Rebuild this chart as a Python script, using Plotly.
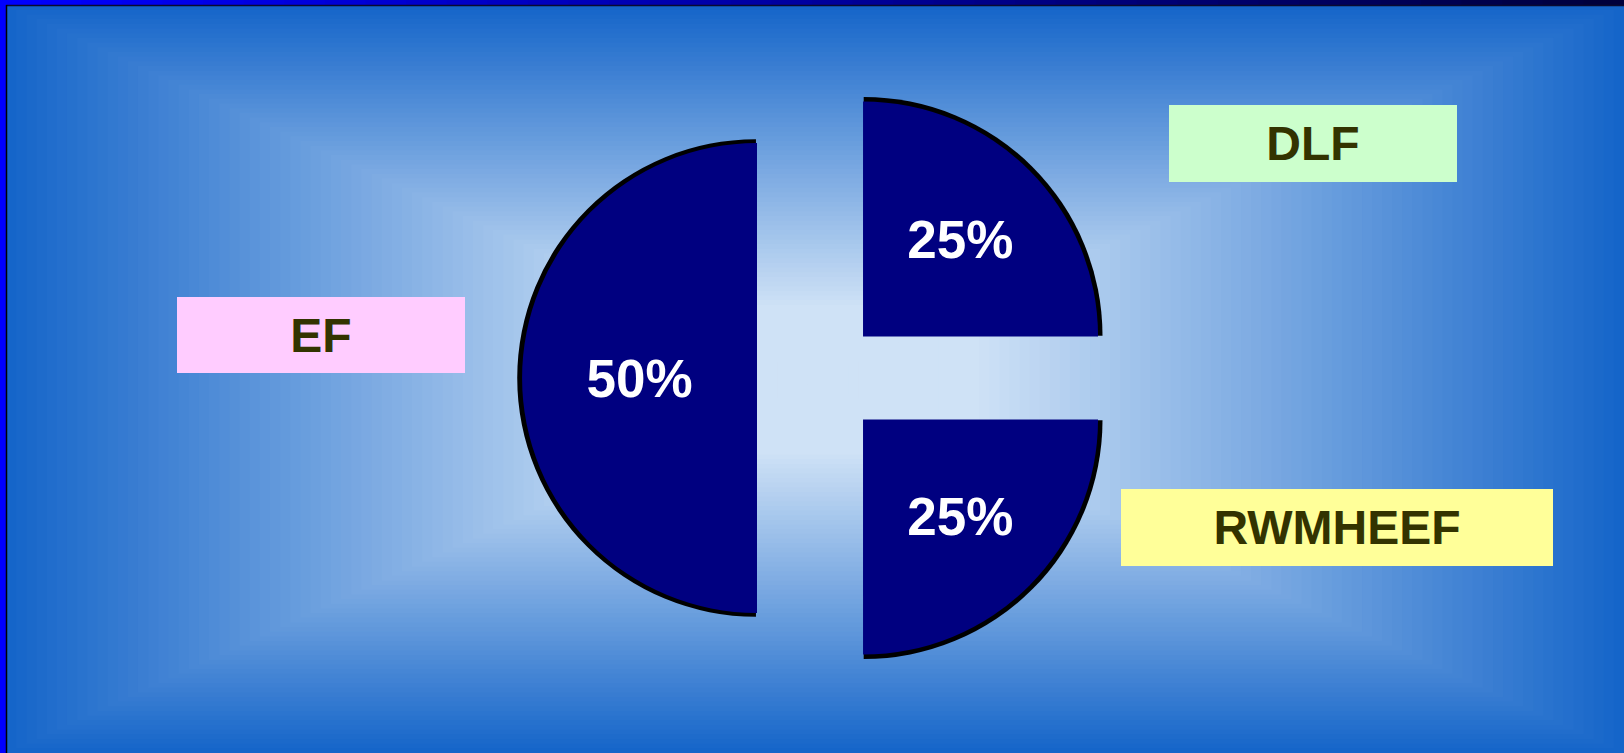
import plotly.graph_objects as go

# ---- data ----
labels = ["EF", "DLF", "RWMHEEF"]
values = [50, 25, 25]
pulls = [0.2745, 0.25, 0.25]
box_colors = ["#FFCCFF", "#CCFFCC", "#FFFF99"]

# ---- geometry / style ----
W, H = 1624, 753
R = 235              # pie radius in px
CX, CY = 821.5, 378  # unpulled pie centre (px from top-left)
max_pull = max(pulls)


def pie_domain(r):
    half = r * (1 + max_pull)
    return dict(x=[(CX - half - 20) / W, (CX + half + 20) / W],
                y=[(H - CY - half) / H, (H - CY + half) / H])


def hexc(c):
    return "#%02x%02x%02x" % tuple(int(round(v)) for v in c)


def lerp(c1, c2, s):
    return tuple(a + (b - a) * s for a, b in zip(c1, c2))


shapes = []
# rectangular "from centre" gradient background
EDGE = (0x15, 0x65, 0xC9)
CENTRE = (0xCF, 0xE2, 0xF6)
GX, GY = 818, 380
L, Rt, T, B = 6, W, 5, H
N = 80
for i in range(N, 0, -1):
    t = i / N
    s = max(0.0, (t - 0.2) / 0.8)
    col = hexc(lerp(CENTRE, EDGE, s))
    x0 = GX - t * (GX - L)
    x1 = GX + t * (Rt - GX)
    y0 = GY - t * (GY - T)
    y1 = GY + t * (B - GY)
    shapes.append(dict(type="rect", xref="paper", yref="paper",
                       x0=x0 / W, x1=x1 / W, y0=1 - y1 / H, y1=1 - y0 / H,
                       fillcolor=col, line=dict(width=0), layer="below"))

# top frame strip (blue -> navy)
NS = 40
for i in range(NS):
    s = i / (NS - 1)
    col = hexc(lerp((0, 0, 255), (0, 0, 60), s))
    shapes.append(dict(type="rect", xref="paper", yref="paper",
                       x0=i * W / NS / W, x1=((i + 1) * W / NS + 1) / W,
                       y0=1 - 5 / H, y1=1.0,
                       fillcolor=col, line=dict(width=0), layer="below"))
# left frame strip
shapes.append(dict(type="rect", xref="paper", yref="paper",
                   x0=0, x1=6 / W, y0=0, y1=1,
                   fillcolor="#0000FF", line=dict(width=0), layer="below"))
# thin dark inner frame lines
shapes.append(dict(type="line", xref="paper", yref="paper",
                   x0=6 / W, x1=1, y0=1 - 5.5 / H, y1=1 - 5.5 / H,
                   line=dict(color="#0A0A30", width=1.5), layer="below"))
shapes.append(dict(type="line", xref="paper", yref="paper",
                   x0=6.5 / W, x1=6.5 / W, y0=0, y1=1 - 5 / H,
                   line=dict(color="#000000", width=1.5), layer="below"))

fig = go.Figure()

# black outline pie (slightly larger, drawn underneath)
fig.add_trace(go.Pie(
    labels=labels, values=values, pull=pulls, sort=False,
    direction="clockwise", rotation=180,
    marker=dict(colors=["#000000"] * len(labels), line=dict(width=0)),
    textinfo="none", hoverinfo="skip", showlegend=False,
    domain=pie_domain(R + 3.8),
))

# navy pie
fig.add_trace(go.Pie(
    labels=labels, values=values, pull=pulls, sort=False,
    direction="clockwise", rotation=180,
    marker=dict(colors=["#000080"] * len(labels), line=dict(width=0)),
    textinfo="percent", textposition="inside",
    insidetextorientation="horizontal",
    insidetextfont=dict(family="Liberation Sans", size=53, color="#FFFFFF",
                        weight="bold"),
    showlegend=False,
    domain=pie_domain(R),
))

# category label boxes
box_geom = {  # centre x, centre y, width, height (px)
    "EF": (321, 335, 288, 76),
    "DLF": (1313, 143.5, 288, 77),
    "RWMHEEF": (1337, 527.5, 432, 77),
}
annotations = []
for lab, col in zip(labels, box_colors):
    bx, by, bw, bh = box_geom[lab]
    annotations.append(dict(
        text="<b>%s</b>" % lab, xref="paper", yref="paper",
        x=bx / W, y=1 - by / H, xanchor="center", yanchor="middle",
        width=bw, height=bh, bgcolor=col, borderpad=0, borderwidth=0,
        showarrow=False, align="center", valign="middle",
        font=dict(family="Liberation Sans", size=48, color="#333300"),
    ))

fig.update_layout(
    width=W, height=H,
    margin=dict(l=0, r=0, t=0, b=0),
    paper_bgcolor="#1565C9", plot_bgcolor="rgba(0,0,0,0)",
    shapes=shapes, annotations=annotations,
    showlegend=False,
)

fig.write_html(
    "out.html",
    config={"displayModeBar": False},
    post_script="document.body.style.margin='0';document.body.style.overflow='hidden';",
)
